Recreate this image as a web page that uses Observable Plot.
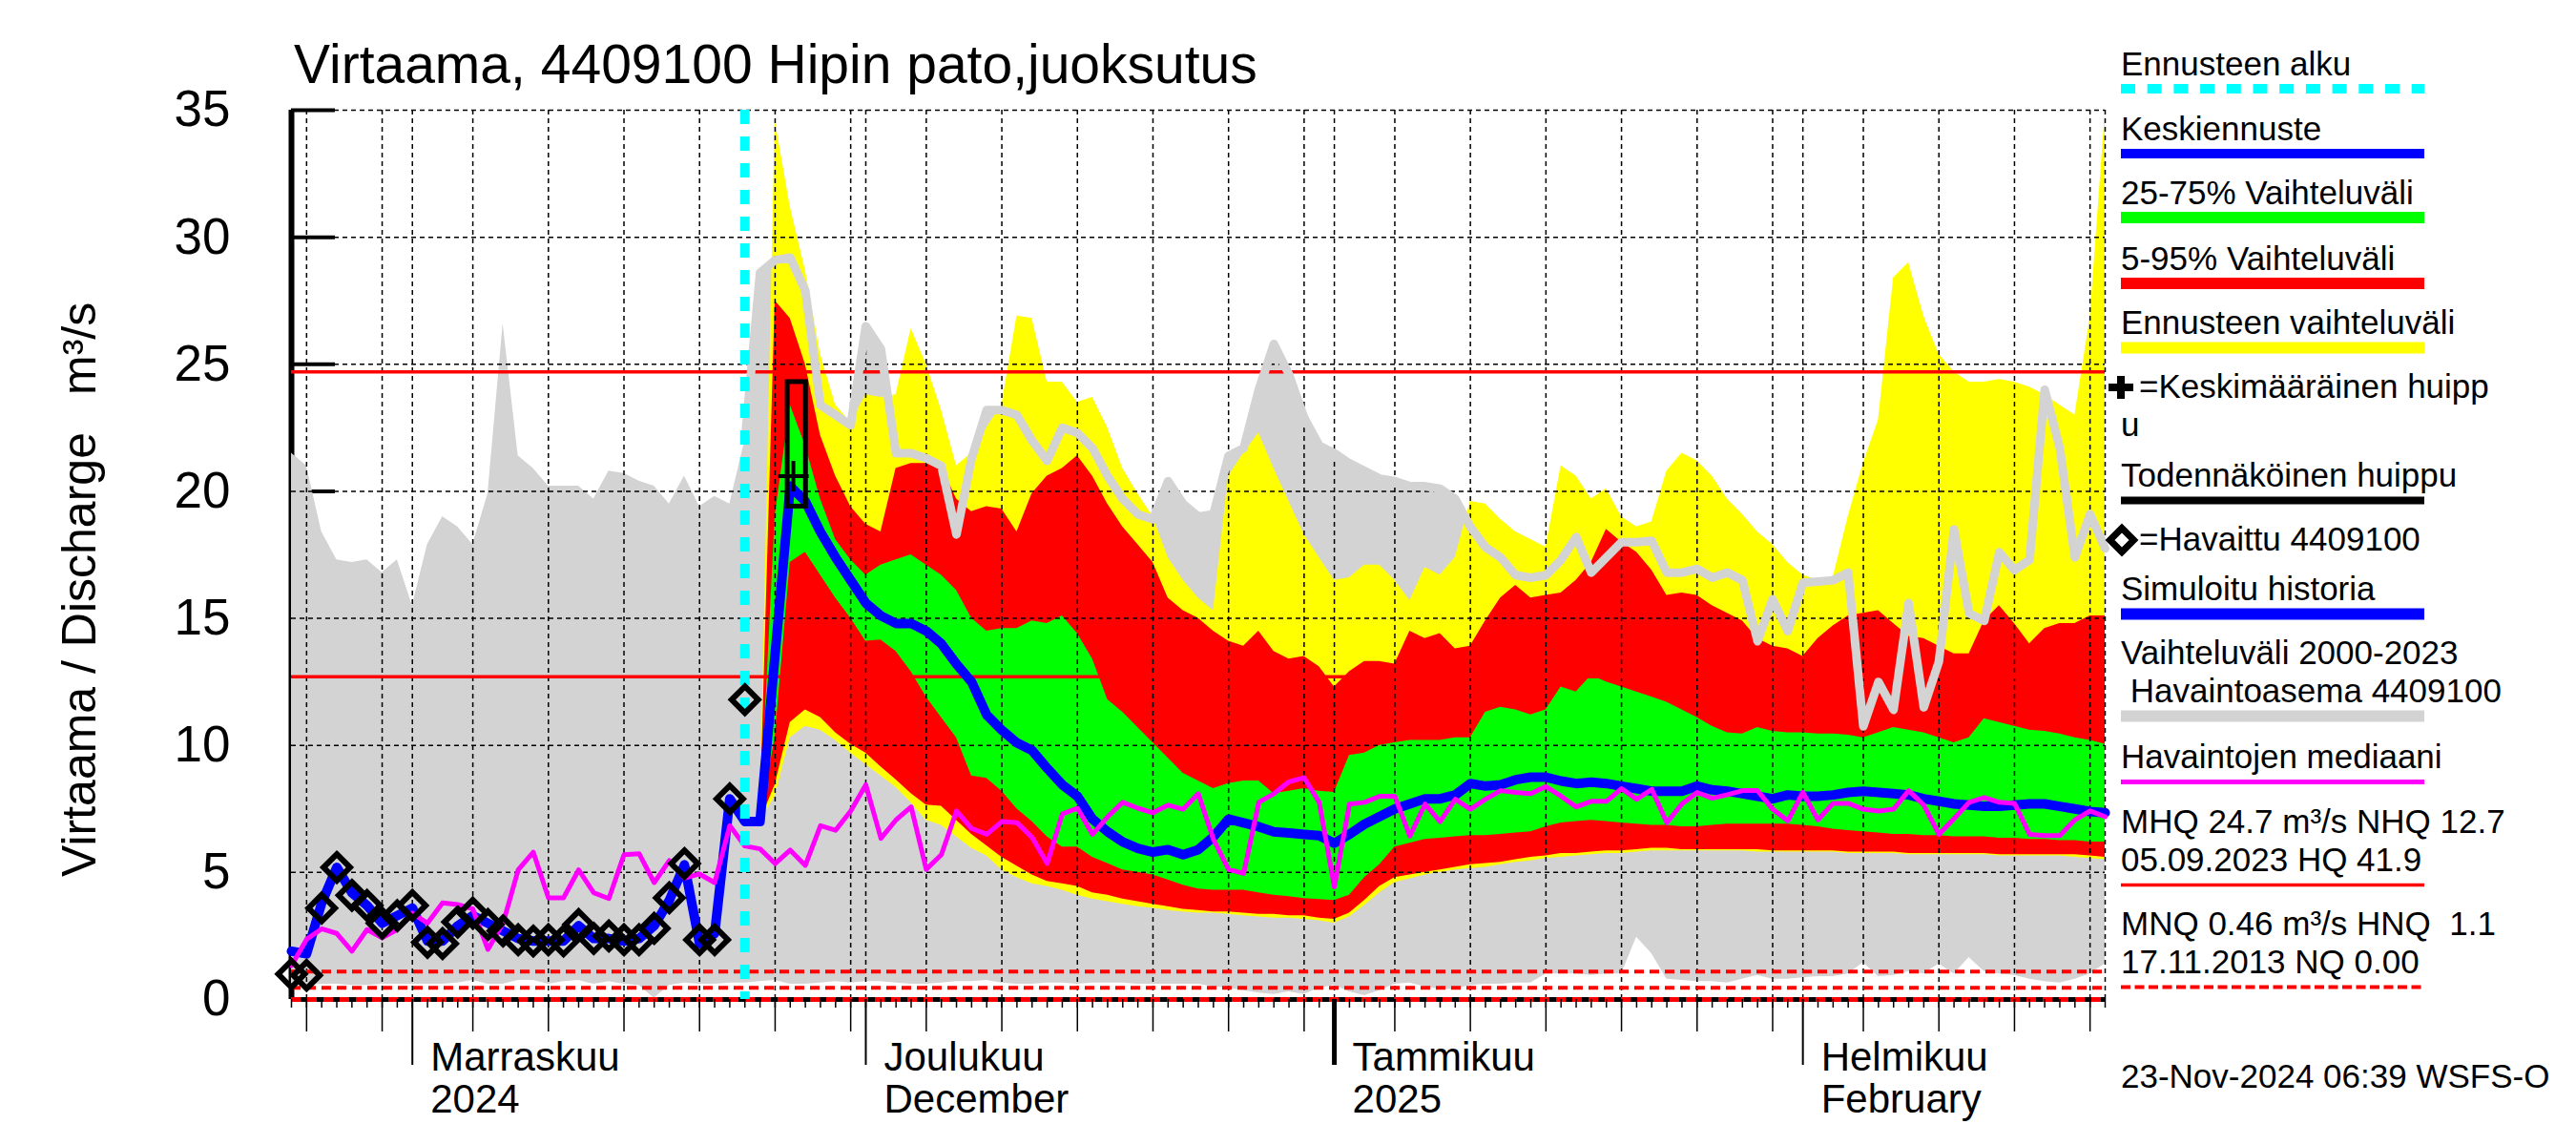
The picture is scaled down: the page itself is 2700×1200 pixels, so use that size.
<!DOCTYPE html>
<html>
<head>
<meta charset="utf-8">
<script src="https://cdn.jsdelivr.net/npm/d3@7"></script>
<script src="https://cdn.jsdelivr.net/npm/@observablehq/plot@0.6"></script>
<style>
  html, body { margin: 0; padding: 0; background: #fff; }
  svg { display: block; }
</style>
</head>
<body>
<div id="chart"></div>
<script>
// ---------------- DATA ----------------
const titleText = "Virtaama, 4409100 Hipin pato,juoksutus";
const startDate = "2024-10-24";           // first day on the x axis (day index 0)
const endDate = "2025-02-21";             // last day on the x axis (day index 120)
const forecastStartDate = "2024-11-23";   // Ennusteen alku
const forecastFirstIndex = 31;            // forecast series start at 2024-11-24

// Observed discharge (Havaittu 4409100), day 0..30
const observed = [1.0, 0.95, 3.6, 5.2, 4.1, 3.7, 3.0, 3.3, 3.7, 2.25,
  2.2, 3.05, 3.4, 2.95, 2.7, 2.35, 2.3, 2.35, 2.3, 2.95,
  2.4, 2.5, 2.35, 2.35, 2.8, 4.0, 5.35, 2.35, 2.35, 7.9, 11.8];

// Simulated history (Simuloitu historia), day 0..31
const simulated = [1.9, 1.8, 3.8, 5.2, 4.2, 3.7, 3.0, 3.3, 3.6, 2.3,
  2.3, 2.9, 3.3, 3.0, 2.7, 2.4, 2.3, 2.3, 2.3, 2.9,
  2.4, 2.4, 2.3, 2.4, 2.9, 3.9, 5.3, 2.2, 2.6, 7.9, 7.0, 7.0];

// Forecast median (Keskiennuste), day 31..120
const fcMedian = [7.0, 13.6, 20.2, 19.6, 18.4, 17.4, 16.5, 15.6, 15.1, 14.8,
  14.8, 14.5, 14.0, 13.2, 12.5, 11.2, 10.6, 10.1, 9.8, 9.1,
  8.45, 8.0, 7.1, 6.6, 6.2, 5.95, 5.8, 5.9, 5.7, 5.9,
  6.4, 7.1, 6.95, 6.8, 6.6, 6.55, 6.5, 6.45, 6.15, 6.5,
  6.9, 7.2, 7.5, 7.7, 7.9, 7.9, 8.05, 8.5, 8.4, 8.45,
  8.65, 8.75, 8.75, 8.6, 8.5, 8.55, 8.5, 8.4, 8.3, 8.2,
  8.2, 8.2, 8.4, 8.25, 8.2, 8.1, 8.0, 7.9, 8.05, 8.0,
  8.0, 8.05, 8.15, 8.2, 8.15, 8.1, 8.05, 7.9, 7.8, 7.7,
  7.65, 7.6, 7.6, 7.65, 7.7, 7.7, 7.6, 7.5, 7.4, 7.35];

// Forecast range (Ennusteen vaihteluväli) max / min, day 31..120
const fcMax = [7.0, 34.6, 31.2, 28.7, 25.4, 23.4, 22.7, 23.8, 23.7, 23.8,
  26.4, 25.0, 23.2, 21.0, 21.5, 22.5, 23.4, 26.9, 26.8, 24.3,
  24.3, 23.5, 23.7, 22.5, 20.9, 19.9, 19.0, 17.4, 16.5, 15.8,
  15.3, 20.6, 21.5, 22.3, 20.9, 19.6, 18.3, 17.4, 16.5, 16.6,
  17.1, 17.1, 16.5, 15.7, 17.0, 16.7, 17.4, 19.6, 19.5, 18.9,
  18.4, 18.1, 17.8, 21.0, 20.6, 19.7, 20.1, 19.0, 18.6, 18.8,
  20.8, 21.5, 21.2, 20.6, 19.7, 19.1, 18.4, 17.9, 17.2, 16.7,
  16.5, 16.6, 19.0, 21.1, 22.8, 28.4, 29.0, 26.9, 25.4, 24.7,
  24.3, 24.3, 24.4, 24.3, 24.1, 23.8, 23.4, 23.0, 26.8, 34.9];
const fcMin = [7.0, 8.0, 10.3, 10.75, 10.6, 10.2, 9.7, 9.25, 8.8, 8.35,
  7.75, 7.05, 6.85, 6.4, 5.95, 5.65, 5.1, 4.8, 4.55, 4.45,
  4.3, 4.1, 3.95, 3.85, 3.75, 3.65, 3.6, 3.5, 3.45, 3.4,
  3.4, 3.35, 3.3, 3.25, 3.2, 3.2, 3.15, 3.1, 3.0, 3.25,
  3.7, 4.2, 4.6, 4.75, 4.9, 5.0, 5.1, 5.15, 5.2, 5.3,
  5.4, 5.45, 5.55, 5.6, 5.65, 5.7, 5.75, 5.75, 5.8, 5.85,
  5.85, 5.85, 5.85, 5.85, 5.85, 5.85, 5.8, 5.8, 5.8, 5.8,
  5.8, 5.8, 5.75, 5.75, 5.75, 5.75, 5.7, 5.7, 5.7, 5.7,
  5.7, 5.7, 5.65, 5.65, 5.65, 5.65, 5.65, 5.6, 5.55, 5.5];

// 5-95 % range, day 31..120
const q95 = [7.0, 27.5, 26.8, 25.0, 22.2, 20.6, 19.4, 18.7, 18.4, 20.9,
  21.1, 21.1, 21.0, 19.7, 19.2, 19.4, 19.3, 18.4, 19.9, 20.6,
  20.9, 21.4, 20.6, 19.5, 18.6, 17.9, 17.2, 15.8, 15.3, 15.0,
  14.5, 14.1, 13.9, 14.5, 13.7, 13.4, 13.5, 13.1, 12.3, 12.9,
  13.3, 13.3, 13.2, 14.5, 14.2, 14.4, 13.8, 13.9, 14.9, 15.8,
  16.3, 15.8, 15.9, 16.0, 16.5, 17.2, 18.5, 18.0, 17.6, 16.9,
  15.9, 16.0, 15.9, 15.5, 15.2, 14.9, 14.2, 13.9, 13.8, 13.5,
  14.2, 14.7, 15.1, 15.2, 15.3, 14.8, 14.3, 14.2, 13.9, 13.6,
  13.6, 14.9, 15.5, 14.8, 14.0, 14.6, 14.8, 14.8, 15.1, 15.1];
const q05 = [7.0, 8.45, 10.9, 11.4, 11.1, 10.5, 10.05, 9.7, 9.15, 8.65,
  8.1, 7.65, 7.6, 7.05, 6.5, 6.05, 5.6, 5.25, 4.9, 4.65,
  4.55, 4.45, 4.2, 4.1, 3.95, 3.85, 3.75, 3.65, 3.55, 3.5,
  3.45, 3.45, 3.4, 3.35, 3.35, 3.3, 3.3, 3.2, 3.15, 3.4,
  3.9, 4.45, 4.8, 4.9, 5.0, 5.1, 5.2, 5.3, 5.35, 5.4,
  5.5, 5.6, 5.65, 5.75, 5.75, 5.8, 5.85, 5.85, 5.9, 5.95,
  5.95, 5.9, 5.9, 5.9, 5.9, 5.9, 5.9, 5.85, 5.85, 5.85,
  5.85, 5.85, 5.8, 5.8, 5.8, 5.8, 5.75, 5.75, 5.75, 5.75,
  5.75, 5.75, 5.7, 5.7, 5.7, 5.7, 5.7, 5.7, 5.65, 5.6];

// 25-75 % range, day 31..120
const q75 = [7.0, 19.0, 23.4, 21.8, 19.7, 18.1, 17.3, 16.7, 17.1, 17.3,
  17.5, 17.1, 16.7, 16.1, 15.0, 14.5, 14.6, 14.6, 14.9, 14.8,
  15.1, 14.4, 13.4, 11.8, 11.3, 10.7, 10.1, 9.5, 8.9, 8.6,
  8.3, 8.5, 8.6, 8.6, 8.1, 8.2, 8.3, 8.2, 8.15, 9.6,
  9.7, 10.0, 10.1, 10.2, 10.2, 10.2, 10.3, 10.3, 11.3, 11.5,
  11.4, 11.2, 11.4, 12.3, 12.1, 12.75, 12.5, 12.3, 12.1, 11.9,
  11.7, 11.4, 11.1, 10.75, 10.5, 10.45, 10.7, 10.55, 10.5, 10.5,
  10.45, 10.45, 10.4, 10.3, 10.5, 10.7, 10.6, 10.5, 10.3, 10.1,
  10.3, 11.05, 10.9, 10.75, 10.6, 10.55, 10.45, 10.3, 10.2, 10.05];
const q25 = [7.0, 10.3, 17.2, 17.6, 16.7, 15.8, 15.0, 14.1, 14.15, 13.7,
  12.9, 11.9, 11.1, 10.3, 8.8, 8.7, 8.2, 7.5, 7.0, 6.4,
  6.0, 6.0, 5.6, 5.35, 5.1, 5.0, 4.9, 4.7, 4.5, 4.35,
  4.3, 4.3, 4.3, 4.2, 4.1, 4.05, 3.97, 3.93, 3.9, 4.1,
  4.8, 5.3, 6.0, 6.15, 6.3, 6.35, 6.4, 6.45, 6.45, 6.5,
  6.55, 6.6, 6.8, 6.95, 7.0, 7.05, 7.0, 6.95, 6.9, 6.85,
  6.85, 6.8, 6.8, 6.85, 6.9, 6.9, 6.9, 6.9, 6.9, 6.85,
  6.8, 6.7, 6.65, 6.6, 6.55, 6.5, 6.5, 6.45, 6.45, 6.4,
  6.4, 6.4, 6.35, 6.35, 6.3, 6.3, 6.25, 6.25, 6.2, 6.2];

// Historical range 2000-2023 (Vaihteluväli, Havaintoasema 4409100), day 0..120
const histMax = [21.5, 21.0, 18.4, 17.3, 17.2, 17.3, 16.8, 17.3, 15.5, 17.9,
  19.0, 18.6, 17.9, 19.9, 26.6, 21.4, 20.9, 20.2, 20.2, 20.2,
  19.7, 20.8, 20.7, 20.4, 20.2, 19.5, 20.6, 19.4, 19.8, 19.5,
  22.0, 28.6, 29.1, 29.2, 27.9, 23.4, 23.0, 22.6, 26.5, 25.6,
  21.5, 21.5, 21.3, 21.0, 18.3, 21.3, 23.2, 23.2, 23.0, 22.0,
  21.2, 22.5, 22.3, 21.7, 20.6, 19.7, 19.1, 18.9, 20.4, 19.5,
  19.0, 19.1, 21.4, 21.7, 24.0, 25.8, 24.6, 22.9, 21.8, 21.5,
  21.1, 20.8, 20.5, 20.4, 20.2, 20.2, 20.1, 19.7, 18.6, 17.8,
  17.4, 16.7, 16.6, 16.7, 17.3, 18.2, 16.8, 17.4, 18.0, 18.0,
  18.05, 16.8, 16.8, 16.95, 16.6, 16.8, 16.5, 14.1, 15.75, 14.5,
  16.4, 16.45, 16.5, 16.8, 10.75, 12.5, 11.4, 15.6, 11.5, 13.3,
  18.5, 15.2, 14.9, 17.6, 16.9, 17.3, 24.0, 21.7, 17.4, 19.1, 17.75];
const histMin = [0.55, 0.55, 0.6, 0.6, 0.55, 0.55, 0.6, 0.6, 0.6, 0.6,
  0.6, 0.65, 0.75, 0.6, 0.6, 0.75, 0.75, 0.6, 0.7, 0.75,
  0.6, 0.7, 0.6, 0.55, 0.05, 0.55, 0.65, 0.6, 0.6, 0.65,
  0.65, 0.7, 0.75, 0.6, 0.6, 0.65, 0.7, 0.65, 0.7, 0.7,
  0.65, 0.6, 0.6, 0.65, 0.7, 0.7, 0.75, 0.65, 0.6, 0.6,
  0.65, 0.65, 0.6, 0.65, 0.65, 0.65, 0.6, 0.6, 0.6, 0.6,
  0.6, 0.5, 0.45, 0.35, 0.25, 0.2, 0.3, 0.2, 0.45, 0.55,
  0.3, 0.15, 0.35, 0.6, 0.65, 0.5, 0.4, 0.4, 0.55, 0.6,
  0.6, 0.65, 0.65, 1.0, 1.0, 1.0, 0.95, 1.0, 1.0, 2.45,
  1.8, 0.8, 0.75, 0.7, 0.7, 0.65, 0.8, 0.95, 0.8, 0.8,
  0.85, 0.9, 0.9, 1.0, 1.45, 0.9, 0.95, 1.1, 1.0, 1.4,
  1.0, 1.65, 1.1, 1.0, 0.95, 0.8, 0.7, 0.65, 0.8, 1.0, 1.4];

// Median of observations (Havaintojen mediaani), day 0..120
const histMedian = [1.33, 2.37, 2.78, 2.6, 1.9, 2.75, 2.43, 2.75, 3.4, 3.0,
  3.8, 3.74, 3.56, 1.97, 3.0, 5.1, 5.8, 4.0, 4.0, 5.1,
  4.2, 3.97, 5.7, 5.74, 4.6, 5.47, 4.78, 4.94, 4.6, 6.84,
  6.04, 5.93, 5.35, 5.88, 5.28, 6.84, 6.66, 7.42, 8.45, 6.34,
  7.07, 7.58, 5.12, 5.7, 7.42, 6.73, 6.5, 7.0, 6.96, 6.38,
  5.35, 7.3, 7.53, 6.5, 7.19, 7.76, 7.53, 7.35, 7.65, 7.49,
  8.1, 6.3, 5.12, 4.96, 7.76, 8.1, 8.57, 8.73, 7.76, 4.43,
  7.69, 7.76, 8.0, 8.0, 6.43, 7.69, 7.0, 7.88, 7.49, 7.88,
  8.22, 8.15, 8.1, 8.38, 8.0, 7.58, 7.8, 7.8, 8.3, 7.88,
  8.27, 6.96, 7.7, 8.15, 7.92, 8.06, 8.22, 8.22, 7.49, 7.03,
  8.15, 7.07, 7.72, 7.72, 7.49, 7.42, 7.49, 8.22, 7.65, 6.5,
  7.12, 7.76, 7.95, 7.76, 7.72, 6.5, 6.45, 6.45, 7.07, 7.42, 7.19];

// Peak markers
const meanPeak = [{date: "2024-11-26T05:00Z", value: 20.6}];   // Keskimääräinen huippu
const probablePeak = [{start: "2024-11-25T20:00Z", end: "2024-11-27T01:00Z", low: 19.4, high: 24.3}]; // Todennäköinen huippu

// Reference levels
const MHQ = 24.7, NHQ = 12.7, HNQ = 1.1, MNQ = 0.46, NQ = 0.0;

// Axis labels
const yTickValues = [0, 5, 10, 15, 20, 25, 30, 35];
const monthLabels = [
  {date: "2024-11-01", label: "Marraskuu\n2024"},
  {date: "2024-12-01", label: "Joulukuu\nDecember"},
  {date: "2025-01-01", label: "Tammikuu\n2025"},
  {date: "2025-02-01", label: "Helmikuu\nFebruary"}
];
const yLabelMain = "Virtaama / Discharge";
const yLabelUnit = "m³/s";
const stampText = "23-Nov-2024 06:39 WSFS-O";

const legendItems = [
  {lines: ["Ennusteen alku"], stroke: "#00ffff", width: 10, dash: "15,12.7"},
  {lines: ["Keskiennuste"], stroke: "#0000ff", width: 10},
  {lines: ["25-75% Vaihteluväli"], stroke: "#00ff00", width: 12},
  {lines: ["5-95% Vaihteluväli"], stroke: "#ff0000", width: 12},
  {lines: ["Ennusteen vaihteluväli"], stroke: "#ffff00", width: 12},
  {lines: ["=Keskimääräinen huipp", "u"], symbol: "plus"},
  {lines: ["Todennäköinen huippu"], stroke: "#000000", width: 8},
  {lines: ["=Havaittu 4409100"], symbol: "diamond"},
  {lines: ["Simuloitu historia"], stroke: "#0000ff", width: 12},
  {lines: ["Vaihteluväli 2000-2023", " Havaintoasema 4409100"], stroke: "#d3d3d3", width: 12},
  {lines: ["Havaintojen mediaani"], stroke: "#ff00ff", width: 5},
  {lines: ["MHQ 24.7 m³/s NHQ 12.7", "05.09.2023 HQ 41.9"], stroke: "#ff0000", width: 3.5},
  {lines: ["MNQ 0.46 m³/s HNQ  1.1", "17.11.2013 NQ 0.00"], stroke: "#ff0000", width: 4, dash: "10,4.5"}
];

// ---------------- BUILD ----------------
const W = 2700, H = 1200;
const mL = 305, mR = 494, mT = 115, mB = 153;
const frameW = W - mL - mR, frameH = H - mT - mB;

const t0 = new Date(startDate + "T00:00Z");
const dayAt = (i) => d3.utcDay.offset(t0, i);
const xDomain = [t0, new Date(endDate + "T00:00Z")];

const hist = histMax.map((hi, i) => ({date: dayAt(i), lo: histMin[i], hi, med: histMedian[i]}));
const fc = fcMedian.map((m, i) => ({
  date: dayAt(forecastFirstIndex + i), med: m,
  ymin: fcMin[i], ymax: fcMax[i], p5: q05[i], p95: q95[i], p25: q25[i], p75: q75[i]
}));
const blueSeries = simulated.map((v, i) => ({date: dayAt(i), v}))
  .concat(fcMedian.slice(1).map((v, i) => ({date: dayAt(forecastFirstIndex + 1 + i), v})));
const obs = observed.map((v, i) => ({date: dayAt(i), v}));

const allDays = d3.utcDay.range(xDomain[0], d3.utcDay.offset(xDomain[1], 1));
const inner = allDays.filter(d => d > xDomain[0] && d < xDomain[1]);
const gridDays = inner.filter(d => [1, 5, 10, 15, 20, 25, 30].includes(d.getUTCDate()));
const fiveDays = inner.filter(d => [5, 10, 15, 20, 25, 30].includes(d.getUTCDate()));
const monthStarts = inner.filter(d => d.getUTCDate() === 1);
const months = monthLabels.map(m => ({date: new Date(m.date + "T00:00Z"), label: m.label}));

const thinPlus = {
  draw(ctx, size) {
    const r = Math.sqrt(size / Math.PI);
    ctx.moveTo(-r, 0); ctx.lineTo(r, 0);
    ctx.moveTo(0, -r); ctx.lineTo(0, r);
  }
};

const dashGrid = {stroke: "black", strokeWidth: 1.5, strokeDasharray: "5,4"};

const plot = Plot.plot({
  width: W, height: H,
  marginLeft: mL, marginRight: mR, marginTop: mT, marginBottom: mB,
  x: {type: "utc", domain: xDomain, axis: null},
  y: {domain: [0, 35]},
  style: {fontFamily: "'Liberation Sans', Arial, Helvetica, sans-serif", background: "white", color: "black", overflow: "visible"},
  marks: [
    // inward y ticks and left spine (partly covered by the grey area)
    Plot.ruleY(yTickValues, {stroke: "black", strokeWidth: 4, insetRight: frameW - 46}),
    Plot.ruleX([xDomain[0]], {stroke: "black", strokeWidth: 6}),
    // historical range
    Plot.areaY(hist, {x: "date", y1: "lo", y2: "hi", fill: "#d3d3d3"}),
    // forecast ranges
    Plot.areaY(fc, {x: "date", y1: "ymin", y2: "ymax", fill: "#ffff00"}),
    Plot.areaY(fc, {x: "date", y1: "p5", y2: "p95", fill: "#ff0000"}),
    Plot.areaY(fc, {x: "date", y1: "p25", y2: "p75", fill: "#00ff00"}),
    // dashed grid
    Plot.ruleY(yTickValues.slice(1), dashGrid),
    Plot.ruleX(gridDays, dashGrid),
    Plot.ruleX([xDomain[1]], dashGrid),
    // reference levels
    Plot.ruleY([MHQ, NHQ], {stroke: "#ff0000", strokeWidth: 3.5}),
    Plot.ruleY([HNQ, MNQ], {stroke: "#ff0000", strokeWidth: 4, strokeDasharray: "10,6"}),
    // bottom axis line with NQ
    Plot.ruleY([0], {stroke: "black", strokeWidth: 5}),
    Plot.ruleY([NQ], {stroke: "#ff0000", strokeWidth: 5, strokeDasharray: "10,7"}),
    // x ticks below axis
    Plot.ruleX(allDays, {stroke: "black", strokeWidth: 1.5, insetTop: frameH, insetBottom: -9}),
    Plot.ruleX(fiveDays, {stroke: "black", strokeWidth: 1.5, insetTop: frameH, insetBottom: -34}),
    Plot.ruleX(monthStarts, {stroke: "black", strokeWidth: d => d.getUTCMonth() === 0 ? 5 : 2, insetTop: frameH, insetBottom: -69}),
    // historical max line over the forecast period
    Plot.line(hist.slice(30), {x: "date", y: "hi", stroke: "#d3d3d3", strokeWidth: 9}),
    // simulated history + forecast median
    Plot.line(blueSeries, {x: "date", y: "v", stroke: "#0000ff", strokeWidth: 10}),
    // median of observations
    Plot.line(hist, {x: "date", y: "med", stroke: "#ff00ff", strokeWidth: 5}),
    // forecast start
    Plot.ruleX([new Date(forecastStartDate + "T00:00Z")], {stroke: "#00ffff", strokeWidth: 10, strokeDasharray: "15,13"}),
    // peaks
    Plot.rect(probablePeak, {x1: d => new Date(d.start), x2: d => new Date(d.end), y1: "low", y2: "high", fill: "none", stroke: "black", strokeWidth: 5}),
    Plot.dot(meanPeak, {x: d => new Date(d.date), y: "value", symbol: thinPlus, r: 16, stroke: "black", strokeWidth: 4}),
    // observations
    Plot.dot(obs, {x: "date", y: "v", symbol: "diamond2", r: 12.5, fill: "none", stroke: "black", strokeWidth: 6}),
    // axes text
    Plot.axisY({ticks: yTickValues, tickSize: 0, tickPadding: 64, fontSize: 53, label: null}),
    Plot.text(months, {x: "date", text: "label", frameAnchor: "bottom", textAnchor: "start", lineAnchor: "top", dx: 19, dy: 43, fontSize: 42, lineHeight: 1.055, fill: "black"})
  ]
});

document.getElementById("chart").appendChild(plot);

// ---------------- TEXT & LEGEND ----------------
const svg = d3.select(plot);
const font = "'Liberation Sans', Arial, Helvetica, sans-serif";
const extra = svg.append("g").attr("text-anchor", "start").attr("font-family", font).attr("fill", "black");

extra.append("text").attr("x", 308).attr("y", 87).attr("font-size", 57).text(titleText);

extra.append("text").attr("transform", "translate(100,919) rotate(-90)").attr("font-size", 50).text(yLabelMain);
extra.append("text").attr("transform", "translate(100,414) rotate(-90)").attr("font-size", 50).text(yLabelUnit);

const lg = extra.append("g").attr("font-size", 35);
const LX = 2223, LX2 = 2541;
const baselines = [78.5, 146.5, 213.5, 282.5, 350, 417, 510, 577, 629, 696, 805, 873, 980];
const lineGap = 40;
legendItems.forEach((it, k) => {
  const b = baselines[k];
  const tx = it.symbol ? 2242 : LX;
  it.lines.forEach((ln, j) => {
    lg.append("text").attr("x", j === 0 ? tx : LX).attr("y", b + j * lineGap)
      .attr("xml:space", "preserve").style("white-space", "pre").text(ln);
  });
  if (it.stroke) {
    const ly = b + (it.lines.length - 1) * lineGap + 14.5;
    const l = lg.append("line").attr("x1", LX).attr("x2", LX2).attr("y1", ly).attr("y2", ly)
      .attr("stroke", it.stroke).attr("stroke-width", it.width);
    if (it.dash) l.attr("stroke-dasharray", it.dash);
  }
  if (it.symbol === "plus") {
    const cx = 2223, cy = b - 11;
    lg.append("path").attr("d", `M${cx - 13},${cy}H${cx + 13}M${cx},${cy - 12}V${cy + 12}`)
      .attr("stroke", "black").attr("stroke-width", 8).attr("fill", "none");
  }
  if (it.symbol === "diamond") {
    const cx = 2224, cy = b - 11, r = 12.5;
    lg.append("path").attr("d", `M${cx},${cy - r}L${cx + r},${cy}L${cx},${cy + r}L${cx - r},${cy}Z`)
      .attr("stroke", "black").attr("stroke-width", 7).attr("fill", "white");
  }
});
lg.append("text").attr("x", LX).attr("y", 1139.5).text(stampText);
</script>
</body>
</html>
